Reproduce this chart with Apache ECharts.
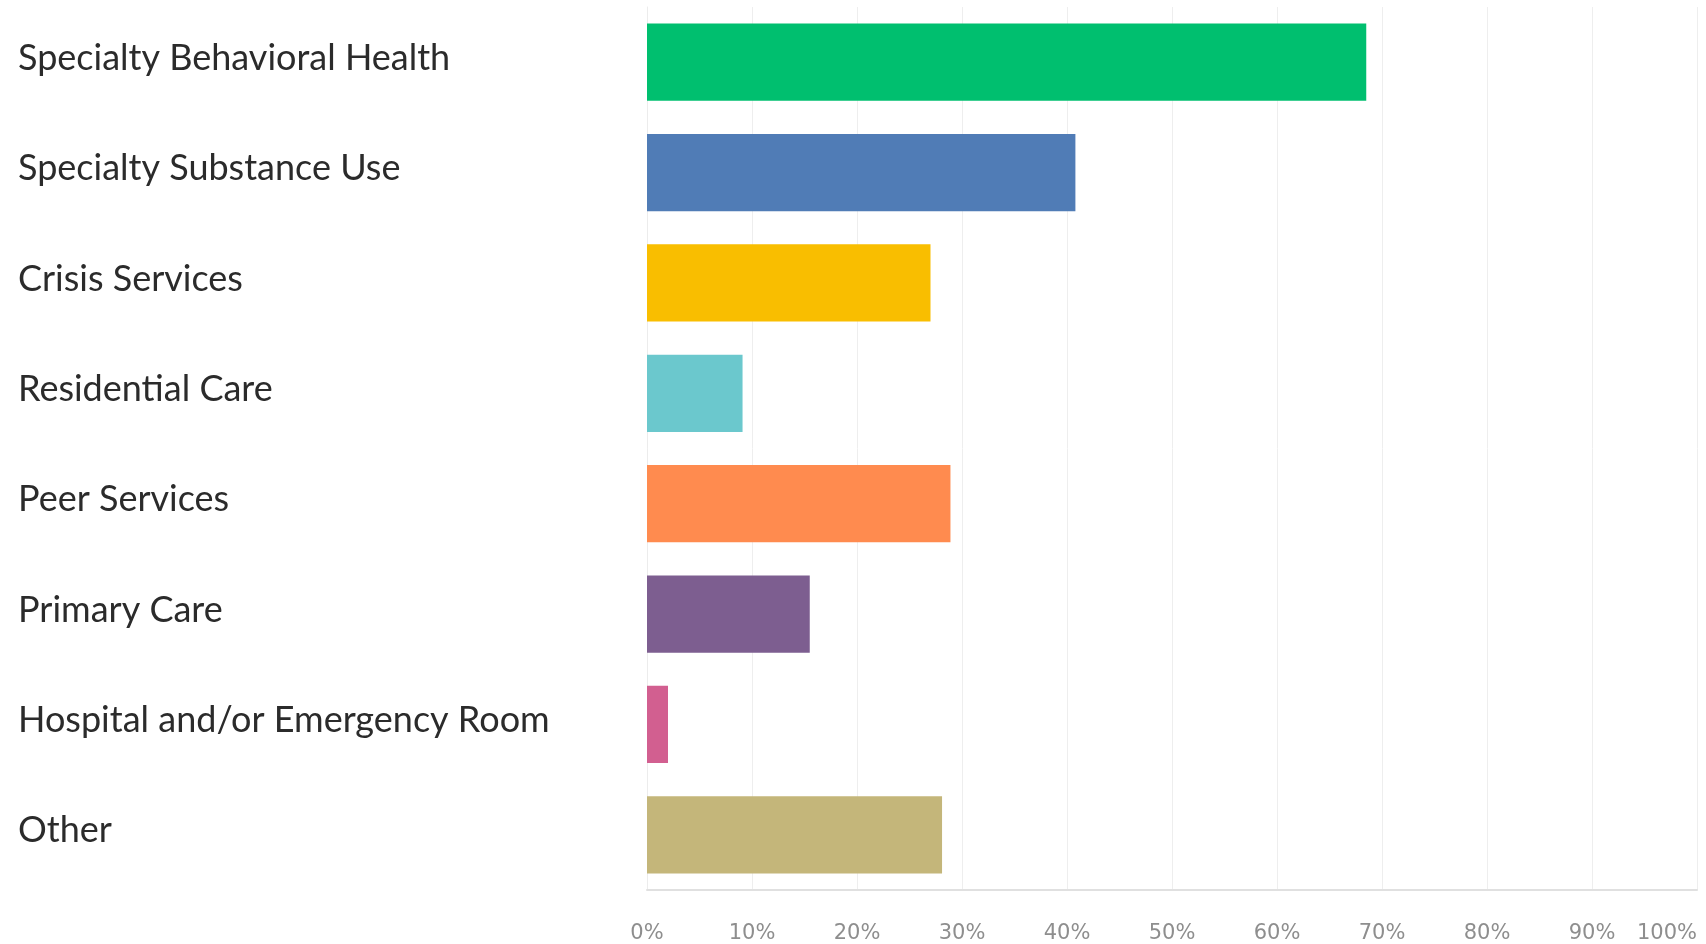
<!DOCTYPE html>
<html>
<head>
<meta charset="utf-8">
<script src="https://cdn.jsdelivr.net/npm/echarts@6/dist/echarts.min.js"></script>
<style>
  html, body { margin: 0; padding: 0; background: #ffffff; }
  #chart { width: 1706px; height: 944px; }
</style>
</head>
<body>
<div id="chart"></div>
<script>
// Answer options, top to bottom
const categories = [
  'Specialty Behavioral Health',
  'Specialty Substance Use',
  'Crisis Services',
  'Residential Care',
  'Peer Services',
  'Primary Care',
  'Hospital and/or Emergency Room',
  'Other'
];

// Share of respondents (%)
const percentages = [68.5, 40.8, 27.0, 9.1, 28.9, 15.5, 2.0, 28.1];

// One colour per answer option
const barColors = ['#00bf6f', '#507cb6', '#f9be00', '#6bc8cd', '#ff8b4f', '#7d5e90', '#d25f90', '#c4b67a'];

// Percentage axis ticks
const axisMin = 0;
const axisMax = 100;
const axisStep = 10;

const chart = echarts.init(document.getElementById('chart'), null, { renderer: 'canvas' });

chart.setOption({
  animation: false,
  backgroundColor: '#ffffff',
  grid: { left: 647, right: 9, top: 7, bottom: 53, containLabel: false },
  xAxis: {
    type: 'value',
    min: axisMin,
    max: axisMax,
    interval: axisStep,
    axisLine: { show: true, lineStyle: { color: '#e0e0e0', width: 2 } },
    axisTick: { show: false },
    splitLine: { show: true, lineStyle: { color: '#eeeeee', width: 1 } },
    axisLabel: {
      formatter: '{value}%',
      color: '#8e8e8e',
      fontFamily: 'DejaVu Sans',
      fontSize: 21,
      margin: 33,
      alignMaxLabel: 'right'
    }
  },
  yAxis: {
    type: 'category',
    inverse: true,
    data: categories,
    axisLine: { show: true, lineStyle: { color: '#ececec', width: 1 } },
    axisTick: { show: false },
    axisLabel: {
      align: 'left',
      verticalAlign: 'bottom',
      lineHeight: 8,
      margin: 629,
      color: '#2b2b2b',
      fontFamily: 'Lato',
      fontSize: 36
    }
  },
  series: [{
    type: 'bar',
    barCategoryGap: '30%',
    data: percentages.map((v, i) => ({ value: v, itemStyle: { color: barColors[i] } }))
  }]
});
</script>
</body>
</html>
